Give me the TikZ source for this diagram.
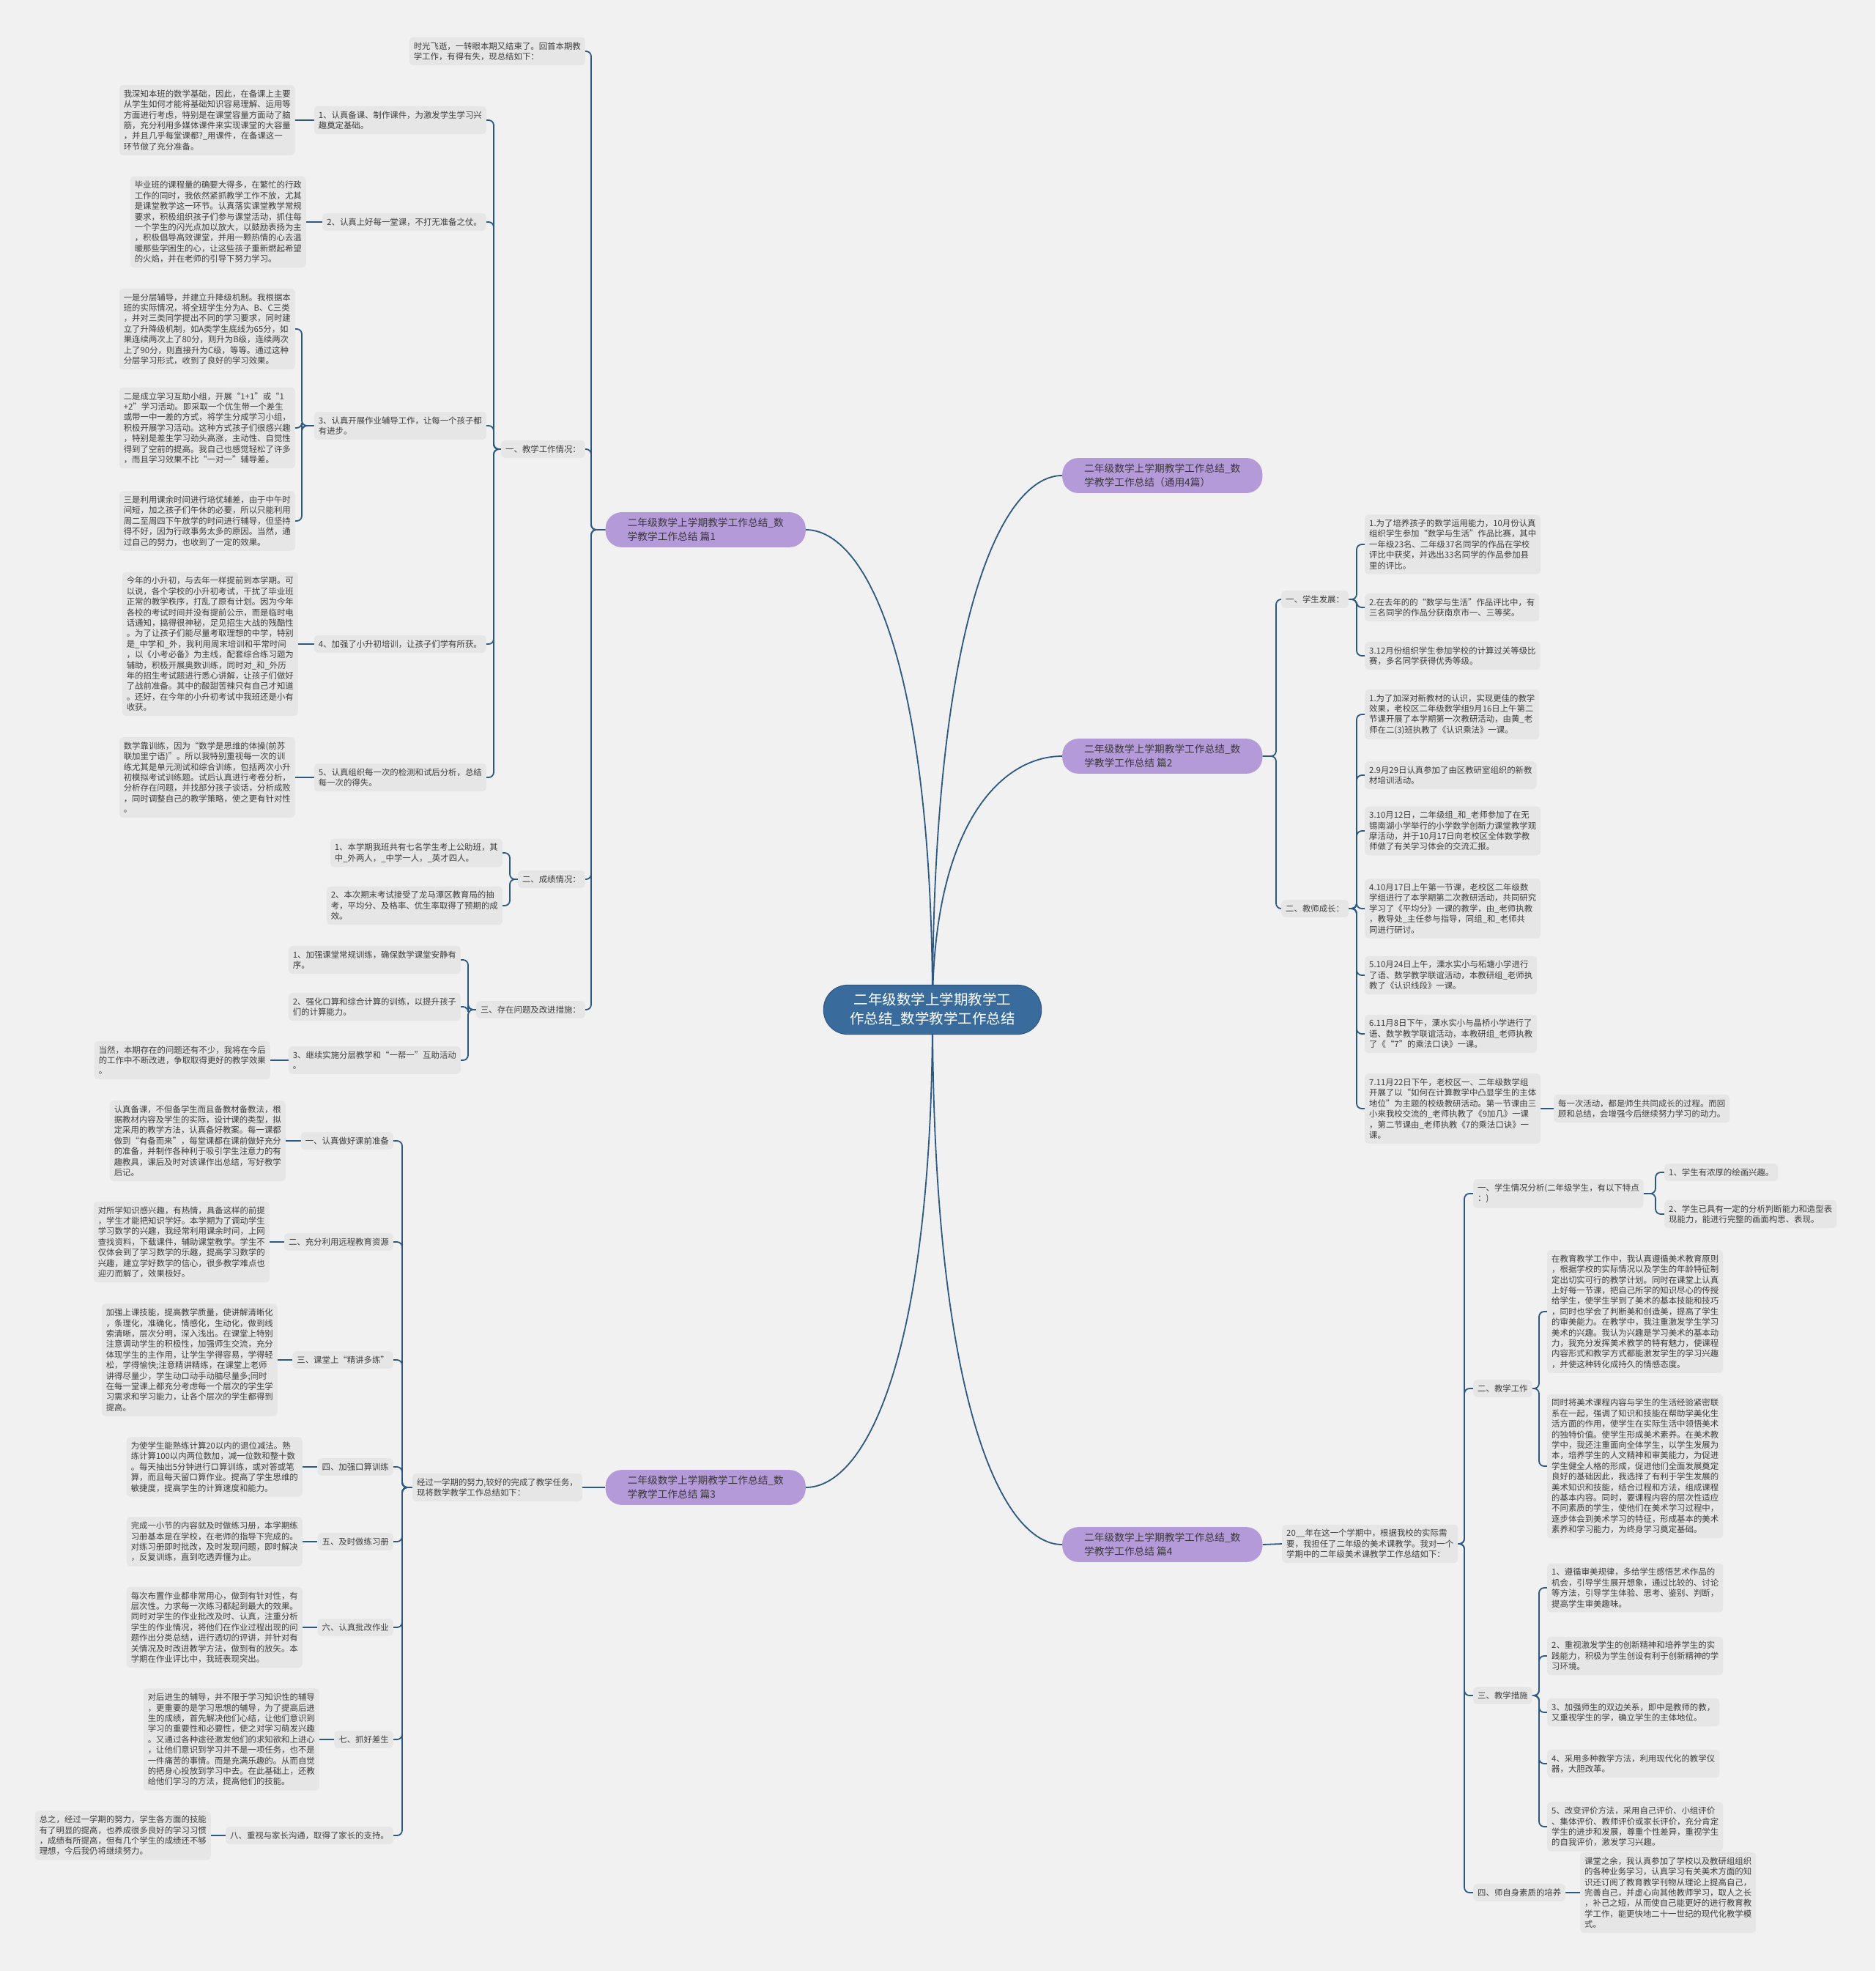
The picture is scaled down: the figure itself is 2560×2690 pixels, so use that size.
\documentclass[tikz,border=0pt]{standalone}
\usepackage{fontspec}
\setmainfont{Noto Sans CJK SC}
\pgfdeclarelayer{bg}
\pgfdeclarelayer{conn}
\pgfsetlayers{bg,conn,main}
\definecolor{bgc}{RGB}{241,241,241}
\definecolor{boxc}{RGB}{230,230,230}
\definecolor{txtc}{RGB}{60,60,60}
\definecolor{linec}{RGB}{44,88,130}
\definecolor{purp}{RGB}{181,154,217}
\definecolor{rootc}{RGB}{57,108,157}
\begin{document}
\begin{tikzpicture}[x=1pt,y=-1pt,
 leaf/.style={fill=boxc, rounded corners=5pt, inner xsep=6pt, inner ysep=6.5pt, align=left, text=txtc, font=\fontsize{11.4}{14.4}\selectfont},
 topic/.style={fill=purp, rounded corners=22pt, inner xsep=30pt, inner ysep=8pt, align=left, text=black!78, font=\fontsize{13.7}{19}\selectfont},
 root/.style={fill=rootc, draw=rootc!80!black, line width=1pt, rounded corners=33pt, inner xsep=36pt, inner ysep=11pt, align=center, text=white, font=\fontsize{19.5}{26}\selectfont},
 conn/.style={draw=linec, line width=1.8pt, rounded corners=7pt},
 curve/.style={draw=linec, line width=1.8pt},
]
\begin{pgfonlayer}{bg}
\fill[bgc] (0,0) rectangle (2560,2690);
\end{pgfonlayer}
\useasboundingbox (0,0) rectangle (2560,2690);

% ---------- root and topics ----------
\node[root] (root) at (1273,1378) {二年级数学上学期教学工\\作总结\_数学教学工作总结};
\node[topic, anchor=west] (p0) at (1450,649) {二年级数学上学期教学工作总结\_数\\学教学工作总结（通用4篇）};
\node[topic, anchor=east] (p1) at (1100,723) {二年级数学上学期教学工作总结\_数\\学教学工作总结 篇1};
\node[topic, anchor=west] (p2) at (1450,1032) {二年级数学上学期教学工作总结\_数\\学教学工作总结 篇2};
\node[topic, anchor=east] (p3) at (1100,2030) {二年级数学上学期教学工作总结\_数\\学教学工作总结 篇3};
\node[topic, anchor=west] (p4) at (1450,2108) {二年级数学上学期教学工作总结\_数\\学教学工作总结 篇4};

% ---------- 篇1 ----------
\node[leaf, anchor=east] (i1) at (799,70) {时光飞逝，一转眼本期又结束了。回首本期教\\学工作，有得有失，现总结如下：};
\node[leaf, anchor=east] (a1) at (799,613) {一、教学工作情况：};
\node[leaf, anchor=east] (a2) at (799,1200) {二、成绩情况：};
\node[leaf, anchor=east] (a3) at (799,1378) {三、存在问题及改进措施：};

\node[leaf, anchor=east] (b1) at (664,164) {1、认真备课、制作课件，为激发学生学习兴\\趣奠定基础。};
\node[leaf, anchor=east] (b2) at (664,303) {2、认真上好每一堂课，不打无准备之仗。};
\node[leaf, anchor=east] (b3) at (664,581) {3、认真开展作业辅导工作，让每一个孩子都\\有进步。};
\node[leaf, anchor=east] (b4) at (664,879) {4、加强了小升初培训，让孩子们学有所获。};
\node[leaf, anchor=east] (b5) at (664,1061) {5、认真组织每一次的检测和试后分析，总结\\每一次的得失。};

\node[leaf, anchor=east] (c1) at (403,164) {我深知本班的数学基础，因此，在备课上主要\\从学生如何才能将基础知识容易理解、运用等\\方面进行考虑，特别是在课堂容量方面动了脑\\筋，充分利用多媒体课件来实现课堂的大容量\\，并且几乎每堂课都?\_用课件，在备课这一\\环节做了充分准备。};
\node[leaf, anchor=east] (c2) at (418,303) {毕业班的课程量的确要大得多，在繁忙的行政\\工作的同时，我依然紧抓教学工作不放，尤其\\是课堂教学这一环节。认真落实课堂教学常规\\要求，积极组织孩子们参与课堂活动，抓住每\\一个学生的闪光点加以放大，以鼓励表扬为主\\，积极倡导高效课堂，并用一颗热情的心去温\\暖那些学困生的心，让这些孩子重新燃起希望\\的火焰，并在老师的引导下努力学习。};
\node[leaf, anchor=east] (c3a) at (403,449) {一是分层辅导，并建立升降级机制。我根据本\\班的实际情况，将全班学生分为A、B、C三类\\，并对三类同学提出不同的学习要求，同时建\\立了升降级机制，如A类学生底线为65分，如\\果连续两次上了80分，则升为B级，连续两次\\上了90分，则直接升为C级，等等。通过这种\\分层学习形式，收到了良好的学习效果。};
\node[leaf, anchor=east] (c3b) at (403,584) {二是成立学习互助小组，开展“1+1”或“1\\+2”学习活动。即采取一个优生带一个差生\\或带一中一差的方式，将学生分成学习小组，\\积极开展学习活动。这种方式孩子们很感兴趣\\，特别是差生学习劲头高涨，主动性、自觉性\\得到了空前的提高。我自己也感觉轻松了许多\\，而且学习效果不比“一对一”辅导差。};
\node[leaf, anchor=east] (c3c) at (403,711) {三是利用课余时间进行培优辅差，由于中午时\\间短，加之孩子们午休的必要，所以只能利用\\周二至周四下午放学的时间进行辅导，但坚持\\得不好，因为行政事务太多的原因。当然，通\\过自己的努力，也收到了一定的效果。};
\node[leaf, anchor=east] (c4) at (407,879) {今年的小升初，与去年一样提前到本学期。可\\以说，各个学校的小升初考试，干扰了毕业班\\正常的教学秩序，打乱了原有计划。因为今年\\各校的考试时间并没有提前公示，而是临时电\\话通知，搞得很神秘，足见招生大战的残酷性\\。为了让孩子们能尽量考取理想的中学，特别\\是\_中学和\_外，我利用周末培训和平常时间\\，以《小考必备》为主线，配套综合练习题为\\辅助，积极开展奥数训练，同时对\_和\_外历\\年的招生考试题进行悉心讲解，让孩子们做好\\了战前准备。其中的酸甜苦辣只有自己才知道\\。还好，在今年的小升初考试中我班还是小有\\收获。};
\node[leaf, anchor=east] (c5) at (403,1061) {数学靠训练，因为“数学是思维的体操(前苏\\联加里宁语)”。所以我特别重视每一次的训\\练尤其是单元测试和综合训练，包括两次小升\\初模拟考试训练题。试后认真进行考卷分析，\\分析存在问题，并找部分孩子谈话，分析成败\\，同时调整自己的教学策略，使之更有针对性\\。};

\node[leaf, anchor=east] (d1) at (686,1164) {1、本学期我班共有七名学生考上公助班，其\\中\_外两人，\_中学一人，\_英才四人。};
\node[leaf, anchor=east] (d2) at (686,1236) {2、本次期末考试接受了龙马潭区教育局的抽\\考，平均分、及格率、优生率取得了预期的成\\效。};

\node[leaf, anchor=east] (e1) at (629,1310) {1、加强课堂常规训练，确保数学课堂安静有\\序。};
\node[leaf, anchor=east] (e2) at (629,1374) {2、强化口算和综合计算的训练，以提升孩子\\们的计算能力。};
\node[leaf, anchor=east] (e3) at (629,1447) {3、继续实施分层教学和“一帮一”互助活动\\。};
\node[leaf, anchor=east] (f3) at (369,1447) {当然，本期存在的问题还有不少，我将在今后\\的工作中不断改进，争取取得更好的教学效果\\。};

% ---------- 篇3 ----------
\node[leaf, anchor=east] (g0) at (795,2030) {经过一学期的努力,较好的完成了教学任务，\\现将数学教学工作总结如下：};
\node[leaf, anchor=east] (g1) at (537,1557) {一、认真做好课前准备};
\node[leaf, anchor=east] (g2) at (537,1695) {二、充分利用远程教育资源};
\node[leaf, anchor=east] (g3) at (537,1856) {三、课堂上“精讲多练”};
\node[leaf, anchor=east] (g4) at (537,2002) {四、加强口算训练};
\node[leaf, anchor=east] (g5) at (537,2104) {五、及时做练习册};
\node[leaf, anchor=east] (g6) at (537,2221) {六、认真批改作业};
\node[leaf, anchor=east] (g7) at (537,2374) {七、抓好差生};
\node[leaf, anchor=east] (g8) at (537,2505) {八、重视与家长沟通，取得了家长的支持。};

\node[leaf, anchor=east] (h1) at (390,1557) {认真备课，不但备学生而且备教材备教法，根\\据教材内容及学生的实际，设计课的类型，拟\\定采用的教学方法，认真备好教案。每一课都\\做到“有备而来”，每堂课都在课前做好充分\\的准备，并制作各种利于吸引学生注意力的有\\趣教具，课后及时对该课作出总结，写好教学\\后记。};
\node[leaf, anchor=east] (h2) at (368,1695) {对所学知识感兴趣，有热情，具备这样的前提\\，学生才能把知识学好。本学期为了调动学生\\学习数学的兴趣，我经常利用课余时间，上网\\查找资料，下载课件，辅助课堂教学。学生不\\仅体会到了学习数学的乐趣，提高学习数学的\\兴趣，建立学好数学的信心，很多教学难点也\\迎刃而解了，效果极好。};
\node[leaf, anchor=east] (h3) at (379,1856) {加强上课技能，提高教学质量，使讲解清晰化\\，条理化，准确化，情感化，生动化，做到线\\索清晰，层次分明，深入浅出。在课堂上特别\\注意调动学生的积极性，加强师生交流，充分\\体现学生的主作用，让学生学得容易，学得轻\\松，学得愉快;注意精讲精练，在课堂上老师\\讲得尽量少，学生动口动手动脑尽量多;同时\\在每一堂课上都充分考虑每一个层次的学生学\\习需求和学习能力，让各个层次的学生都得到\\提高。};
\node[leaf, anchor=east] (h4) at (413,2002) {为使学生能熟练计算20以内的退位减法。熟\\练计算100以内两位数加，减一位数和整十数\\。每天抽出5分钟进行口算训练，或对答或笔\\算，而且每天留口算作业。提高了学生思维的\\敏捷度，提高学生的计算速度和能力。};
\node[leaf, anchor=east] (h5) at (413,2104) {完成一小节的内容就及时做练习册，本学期练\\习册基本是在学校，在老师的指导下完成的。\\对练习册即时批改，及时发现问题，即时解决\\，反复训练，直到吃透弄懂为止。};
\node[leaf, anchor=east] (h6) at (413,2221) {每次布置作业都非常用心，做到有针对性，有\\层次性。力求每一次练习都起到最大的效果。\\同时对学生的作业批改及时、认真，注重分析\\学生的作业情况，将他们在作业过程出现的问\\题作出分类总结，进行透切的评讲，并针对有\\关情况及时改进教学方法，做到有的放矢。本\\学期在作业评比中，我班表现突出。};
\node[leaf, anchor=east] (h7) at (436,2374) {对后进生的辅导，并不限于学习知识性的辅导\\，更重要的是学习思想的辅导，为了提高后进\\生的成绩，首先解决他们心结，让他们意识到\\学习的重要性和必要性，使之对学习萌发兴趣\\。又通过各种途径激发他们的求知欲和上进心\\，让他们意识到学习并不是一项任务，也不是\\一件痛苦的事情。而是充满乐趣的。从而自觉\\的把身心投放到学习中去。在此基础上，还教\\给他们学习的方法，提高他们的技能。};
\node[leaf, anchor=east] (h8) at (288,2505) {总之，经过一学期的努力，学生各方面的技能\\有了明显的提高，也养成很多良好的学习习惯\\，成绩有所提高，但有几个学生的成绩还不够\\理想，今后我仍将继续努力。};

% ---------- 篇2 ----------
\node[leaf, anchor=west] (k1) at (1749,818) {一、学生发展：};
\node[leaf, anchor=west] (k2) at (1749,1240) {二、教师成长：};
\node[leaf, anchor=west] (m1) at (1863,743) {1.为了培养孩子的数学运用能力，10月份认真\\组织学生参加“数学与生活”作品比赛，其中\\一年级23名、二年级37名同学的作品在学校\\评比中获奖，并选出33名同学的作品参加县\\里的评比。};
\node[leaf, anchor=west] (m2) at (1863,829) {2.在去年的的“数学与生活”作品评比中，有\\三名同学的作品分获南京市一、三等奖。};
\node[leaf, anchor=west] (m3) at (1863,895) {3.12月份组织学生参加学校的计算过关等级比\\赛，多名同学获得优秀等级。};
\node[leaf, anchor=west] (n1) at (1863,975) {1.为了加深对新教材的认识，实现更佳的教学\\效果，老校区二年级数学组9月16日上午第二\\节课开展了本学期第一次教研活动，由黄\_老\\师在二(3)班执教了《认识乘法》一课。};
\node[leaf, anchor=west] (n2) at (1863,1058) {2.9月29日认真参加了由区教研室组织的新教\\材培训活动。};
\node[leaf, anchor=west] (n3) at (1863,1134) {3.10月12日，二年级组\_和\_老师参加了在无\\锡南湖小学举行的小学数学创新力课堂教学观\\摩活动，并于10月17日向老校区全体数学教\\师做了有关学习体会的交流汇报。};
\node[leaf, anchor=west] (n4) at (1863,1240) {4.10月17日上午第一节课，老校区二年级数\\学组进行了本学期第二次教研活动，共同研究\\学习了《平均分》一课的教学，由\_老师执教\\，教导处\_主任参与指导，同组\_和\_老师共\\同进行研讨。};
\node[leaf, anchor=west] (n5) at (1863,1331) {5.10月24日上午，溧水实小与柘塘小学进行\\了语、数学教学联谊活动，本教研组\_老师执\\教了《认识线段》一课。};
\node[leaf, anchor=west] (n6) at (1863,1411) {6.11月8日下午，溧水实小与晶桥小学进行了\\语、数学教学联谊活动，本教研组\_老师执教\\了《“7”的乘法口诀》一课。};
\node[leaf, anchor=west] (n7) at (1863,1513) {7.11月22日下午，老校区一、二年级数学组\\开展了以“如何在计算教学中凸显学生的主体\\地位”为主题的校级教研活动。第一节课由三\\小来我校交流的\_老师执教了《9加几》一课\\，第二节课由\_老师执教《7的乘法口诀》一\\课。};
\node[leaf, anchor=west] (o7) at (2121,1513) {每一次活动，都是师生共同成长的过程。而回\\顾和总结，会增强今后继续努力学习的动力。};

% ---------- 篇4 ----------
\node[leaf, anchor=west] (q0) at (1750,2107) {20\_\_年在这一个学期中，根据我校的实际需\\要，我担任了二年级的美术课教学。我对一个\\学期中的二年级美术课教学工作总结如下：};
\node[leaf, anchor=west] (r1) at (2011,1629) {一、学生情况分析(二年级学生，有以下特点\\：)};
\node[leaf, anchor=west] (r2) at (2011,1895) {二、教学工作};
\node[leaf, anchor=west] (r3) at (2011,2314) {三、教学措施};
\node[leaf, anchor=west] (r4) at (2011,2583) {四、师自身素质的培养};
\node[leaf, anchor=west] (t1) at (2272,1600) {1、学生有浓厚的绘画兴趣。};
\node[leaf, anchor=west] (t2) at (2272,1657) {2、学生已具有一定的分析判断能力和造型表\\现能力，能进行完整的画面构思、表现。};
\node[leaf, anchor=west] (u1) at (2112,1790) {在教育教学工作中，我认真遵循美术教育原则\\，根据学校的实际情况以及学生的年龄特征制\\定出切实可行的教学计划。同时在课堂上认真\\上好每一节课，把自己所学的知识尽心的传授\\给学生，使学生学到了美术的基本技能和技巧\\，同时也学会了判断美和创造美，提高了学生\\的审美能力。在教学中，我注重激发学生学习\\美术的兴趣。我认为兴趣是学习美术的基本动\\力，我充分发挥美术教学的特有魅力，使课程\\内容形式和教学方式都能激发学生的学习兴趣\\，并使这种转化成持久的情感态度。};
\node[leaf, anchor=west] (u2) at (2112,2001) {同时将美术课程内容与学生的生活经验紧密联\\系在一起，强调了知识和技能在帮助学美化生\\活方面的作用，使学生在实际生活中领悟美术\\的独特价值。使学生形成美术素养。在美术教\\学中，我还注重面向全体学生，以学生发展为\\本，培养学生的人文精神和审美能力，为促进\\学生健全人格的形成，促进他们全面发展奠定\\良好的基础因此，我选择了有利于学生发展的\\美术知识和技能，结合过程和方法，组成课程\\的基本内容。同时，要课程内容的层次性适应\\不同素质的学生，使他们在美术学习过程中，\\逐步体会到美术学习的特征，形成基本的美术\\素养和学习能力，为终身学习奠定基础。};
\node[leaf, anchor=west] (v1) at (2112,2167) {1、遵循审美规律，多给学生感悟艺术作品的\\机会，引导学生展开想象，通过比较的、讨论\\等方法，引导学生体验、思考、鉴别、判断，\\提高学生审美趣味。};
\node[leaf, anchor=west] (v2) at (2112,2260) {2、重视激发学生的创新精神和培养学生的实\\践能力，积极为学生创设有利于创新精神的学\\习环境。};
\node[leaf, anchor=west] (v3) at (2112,2337) {3、加强师生的双边关系，即中是教师的教，\\又重视学生的学，确立学生的主体地位。};
\node[leaf, anchor=west] (v4) at (2112,2407) {4、采用多种教学方法，利用现代化的教学仪\\器，大胆改革。};
\node[leaf, anchor=west] (v5) at (2112,2493) {5、改变评价方法，采用自己评价、小组评价\\、集体评价、教师评价或家长评价，充分肯定\\学生的进步和发展，尊重个性差异，重视学生\\的自我评价，激发学习兴趣。};
\node[leaf, anchor=west] (w4) at (2157,2583) {课堂之余，我认真参加了学校以及教研组组织\\的各种业务学习，认真学习有关美术方面的知\\识还订阅了教育教学刊物从理论上提高自己，\\完善自己，并虚心向其他教师学习，取人之长\\，补己之短，从而使自己能更好的进行教育教\\学工作，能更快地二十一世纪的现代化教学模\\式。};

% ---------- junction coordinates ----------
\coordinate (j1) at (807,723);
\coordinate (ja1) at (674,613);
\coordinate (jb3) at (412,581);
\coordinate (ja2) at (696,1200);
\coordinate (ja3) at (639,1378);
\coordinate (j3) at (549,2030);
\coordinate (j2) at (1742,1032);
\coordinate (jk1) at (1852,818);
\coordinate (jk2) at (1852,1240);
\coordinate (j4) at (1999,2107);
\coordinate (jr1) at (2260,1629);
\coordinate (jr2) at (2101,1895);
\coordinate (jr3) at (2101,2314);

% ---------- connectors ----------
\begin{pgfonlayer}{conn}
\draw[curve] (root.center) .. controls (1273,900) and (1181,723) .. (p1.east);
\draw[curve] (root.center) .. controls (1273,846) and (1367,649) .. (p0.west);
\draw[curve] (root.center) .. controls (1273,1125) and (1367,1032) .. (p2.west);
\draw[curve] (root.center) .. controls (1273,1854) and (1181,2030) .. (p3.east);
\draw[curve] (root.center) .. controls (1273,1911) and (1367,2108) .. (p4.west);

\foreach \c in {i1,a1,a2,a3} \draw[conn] (p1.west) -- (j1) |- (\c.east);
\foreach \c in {b1,b2,b3,b4,b5} \draw[conn] (a1.west) -- (ja1) |- (\c.east);
\draw[conn] (b1.west) -- (c1.east);
\draw[conn] (b2.west) -- (c2.east);
\foreach \c in {c3a,c3b,c3c} \draw[conn] (b3.west) -- (jb3) |- (\c.east);
\draw[conn] (b4.west) -- (c4.east);
\draw[conn] (b5.west) -- (c5.east);
\foreach \c in {d1,d2} \draw[conn] (a2.west) -- (ja2) |- (\c.east);
\foreach \c in {e1,e2,e3} \draw[conn] (a3.west) -- (ja3) |- (\c.east);
\draw[conn] (e3.west) -- (f3.east);

\draw[conn] (p3.west) -- (g0.east);
\foreach \c in {g1,g2,g3,g4,g5,g6,g7,g8} \draw[conn] (g0.west) -- (j3) |- (\c.east);
\foreach \a/\b in {g1/h1,g2/h2,g3/h3,g4/h4,g5/h5,g6/h6,g7/h7,g8/h8} \draw[conn] (\a.west) -- (\b.east);

\foreach \c in {k1,k2} \draw[conn] (p2.east) -- (j2) |- (\c.west);
\foreach \c in {m1,m2,m3} \draw[conn] (k1.east) -- (jk1) |- (\c.west);
\foreach \c in {n1,n2,n3,n4,n5,n6,n7} \draw[conn] (k2.east) -- (jk2) |- (\c.west);
\draw[conn] (n7.east) -- (o7.west);

\draw[conn] (p4.east) -- (q0.west);
\foreach \c in {r1,r2,r3,r4} \draw[conn] (q0.east) -- (j4) |- (\c.west);
\foreach \c in {t1,t2} \draw[conn] (r1.east) -- (jr1) |- (\c.west);
\foreach \c in {u1,u2} \draw[conn] (r2.east) -- (jr2) |- (\c.west);
\foreach \c in {v1,v2,v3,v4,v5} \draw[conn] (r3.east) -- (jr3) |- (\c.west);
\draw[conn] (r4.east) -- (w4.west);
\end{pgfonlayer}
\end{tikzpicture}
\end{document}
